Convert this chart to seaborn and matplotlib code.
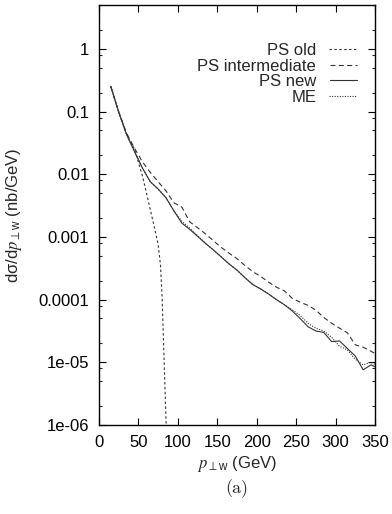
import numpy as np
import pandas as pd
import matplotlib
matplotlib.use("Agg")
import matplotlib.pyplot as plt
from matplotlib.ticker import FixedLocator, NullFormatter
import seaborn as sns

# ---------------- data ----------------
x_main = [15, 25, 35, 45, 55, 65, 75, 85, 95, 105, 115, 125, 135, 145, 155,
          165, 175, 185, 195, 205, 215, 225, 235, 245, 255, 265, 275, 285,
          295, 305, 315, 325, 335, 345, 350]

ps_new = [0.25, 0.098, 0.043, 0.023, 0.0126, 0.0076, 0.0058, 0.0042, 0.0026,
          0.00166, 0.00132, 0.00102, 7.9e-4, 6.2e-4, 4.8e-4, 3.7e-4, 2.95e-4,
          2.24e-4, 1.74e-4, 1.48e-4, 1.23e-4, 1.0e-4, 8.3e-5, 6.6e-5, 5.0e-5,
          3.7e-5, 3.16e-5, 3.0e-5, 2.14e-5, 2.19e-5, 1.66e-5, 1.26e-5, 7.6e-6,
          9.1e-6, 8.5e-6]

me = [0.25, 0.098, 0.043, 0.023, 0.0126, 0.0076, 0.0058, 0.0042, 0.0026,
      0.00178, 0.00138, 0.00105, 7.9e-4, 6.2e-4, 4.8e-4, 3.7e-4, 2.95e-4,
      2.24e-4, 1.74e-4, 1.48e-4, 1.23e-4, 1.0e-4, 8.3e-5, 6.9e-5, 5.6e-5,
      4.2e-5, 3.5e-5, 3.16e-5, 2.5e-5, 1.8e-5, 1.58e-5, 1.12e-5, 9.1e-6,
      1.0e-5, 9.3e-6]

ps_intermediate = [0.25, 0.098, 0.045, 0.026, 0.0158, 0.0107, 0.0076, 0.0054,
                   0.0035, 0.0030, 0.00174, 0.0014, 0.00112, 8.7e-4, 6.8e-4,
                   5.5e-4, 4.5e-4, 3.5e-4, 2.8e-4, 2.34e-4, 1.9e-4, 1.58e-4,
                   1.38e-4, 1.05e-4, 9.1e-5, 8.1e-5, 6.8e-5, 5.2e-5, 4.2e-5,
                   3.5e-5, 2.95e-5, 1.9e-5, 1.74e-5, 1.5e-5, 1.38e-5]

x_old = [15, 25, 35, 45, 55, 62, 69, 75, 78, 80, 82, 84, 86]
ps_old = [0.25, 0.098, 0.043, 0.025, 0.0095, 0.004, 0.00166, 7.6e-4, 3.5e-4,
          1.1e-4, 1.8e-5, 2.8e-6, 5e-7]

series_names = ["PS old", "PS intermediate", "PS new", "ME"]
x_ticks = [0, 50, 100, 150, 200, 250, 300, 350]
y_ticks = [1e-6, 1e-5, 1e-4, 1e-3, 1e-2, 1e-1, 1]
y_ticklabels = ["1e-06", "1e-05", "0.0001", "0.001", "0.01", "0.1", "1"]

frames = [
    pd.DataFrame({"pt": x_old, "val": ps_old, "model": "PS old"}),
    pd.DataFrame({"pt": x_main, "val": ps_intermediate, "model": "PS intermediate"}),
    pd.DataFrame({"pt": x_main, "val": ps_new, "model": "PS new"}),
    pd.DataFrame({"pt": x_main, "val": me, "model": "ME"}),
]
df = pd.concat(frames, ignore_index=True)

# ---------------- style ----------------
sns.set_style("ticks")
plt.rcParams["font.family"] = ["Liberation Sans", "DejaVu Sans"]
plt.rcParams["mathtext.fontset"] = "custom"
plt.rcParams["mathtext.rm"] = "Liberation Sans"
plt.rcParams["mathtext.it"] = "STIXGeneral:italic"
plt.rcParams["mathtext.sf"] = "Liberation Sans"

FS = 12
fig = plt.figure(figsize=(3.92, 5.14), dpi=100)
ax = fig.add_axes([99 / 392, 1 - 425 / 514, 276 / 392, 420 / 514])

line_col = "#333333"
palette = {n: line_col for n in series_names}
dashes = {"PS old": (2.2, 2.2), "PS intermediate": (4.5, 3),
          "PS new": "", "ME": (1, 1.3)}

sns.lineplot(data=df, x="pt", y="val", hue="model", style="model",
             hue_order=series_names, style_order=series_names,
             palette=palette, dashes=dashes, estimator=None, sort=False,
             linewidth=0.8, ax=ax)

ax.set_yscale("log")
ax.set_xlim(0, 350)
ax.set_ylim(1e-6, 5)

ax.xaxis.set_major_locator(FixedLocator(x_ticks))
ax.set_xticklabels([str(t) for t in x_ticks], fontsize=FS)
ax.yaxis.set_major_locator(FixedLocator(y_ticks))
ax.set_yticklabels(y_ticklabels, fontsize=FS)
minor = [m * 10.0 ** k for k in range(-6, 1) for m in (2, 5, 8)]
ax.yaxis.set_minor_locator(FixedLocator(minor))
ax.yaxis.set_minor_formatter(NullFormatter())
ax.xaxis.set_minor_locator(FixedLocator([]))

ax.tick_params(which="major", direction="in", length=5, width=0.8,
               top=True, right=True, pad=7, colors="black")
ax.tick_params(which="minor", direction="in", length=2.5, width=0.8,
               left=True, right=True)
for s in ax.spines.values():
    s.set_visible(True)
    s.set_linewidth(1.0)
    s.set_color("black")

ax.set_xlabel(r"$p_{\perp \mathrm{w}}$ (GeV)", fontsize=FS)
ax.set_ylabel(r"dσ/d$p_{\perp \mathrm{w}}$ (nb/GeV)", fontsize=FS)
ax.xaxis.set_label_coords(0.5, -0.068)
ax.yaxis.set_label_coords(-0.27, 0.5)

handles, labels = ax.get_legend_handles_labels()
leg = ax.legend(handles, labels, loc="upper right", frameon=False,
                markerfirst=False, fontsize=FS, handlelength=1.65,
                handletextpad=0.8, labelspacing=0.04, borderpad=0,
                borderaxespad=0,
                bbox_to_anchor=((357 - 99) / 276, (425 - 43) / 420))
for lh in leg.get_lines():
    lh.set_linewidth(0.8)

fig.text(237 / 392, 1 - 489 / 514, "(a)", fontsize=FS + 1, family="cmr10",
         ha="center", va="center")

fig.savefig("out.png", dpi=100)
